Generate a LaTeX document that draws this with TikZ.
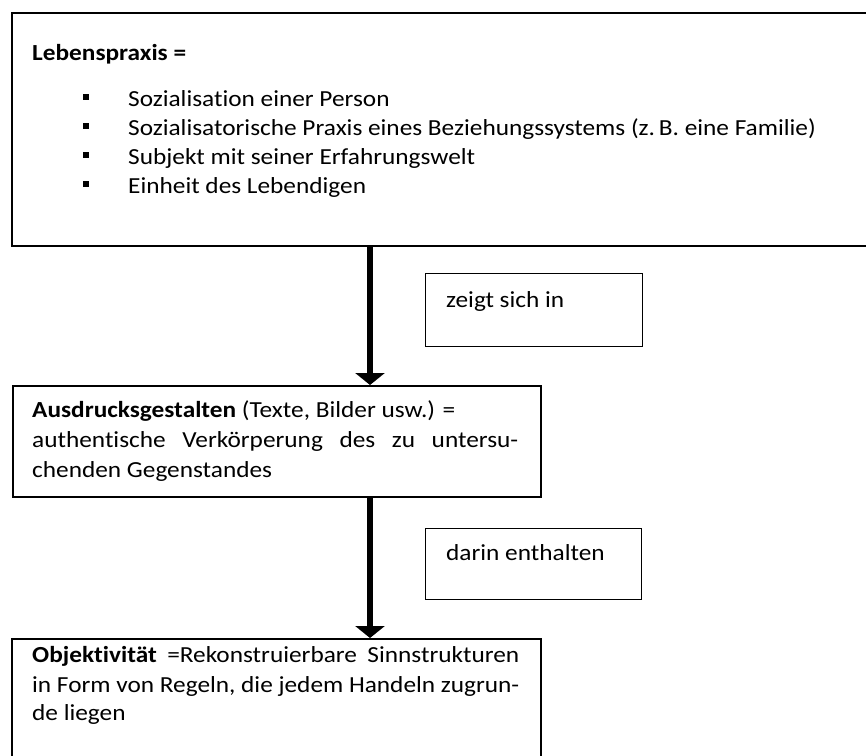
\documentclass[tikz,border=0pt]{standalone}
\usepackage{fontspec}
\setmainfont{Carlito}[Ligatures=NoCommon, FakeStretch=1.1]
\usetikzlibrary{arrows.meta}
\begin{document}
\begin{tikzpicture}[x=1pt,y=-1pt,
  bigbox/.style={draw, line width=1.6pt, anchor=north west, inner sep=0pt},
  labbox/.style={draw, line width=1.3pt, anchor=north west, inner sep=0pt},
  txt/.style={anchor=base west, inner sep=0pt, font=\fontsize{23}{29}\selectfont},
  flow/.style={line width=6pt, -{Triangle[length=12pt, width=29pt]}}
]
\useasboundingbox (0,0) rectangle (866,755);
\clip (0,0) rectangle (866,755);
% boxes
\node[bigbox, minimum width=869pt, minimum height=233pt] (top) at (11,12) {};
\node[bigbox, minimum width=528pt, minimum height=111pt] (mid) at (12,385) {};
\node[bigbox, minimum width=529pt, minimum height=140pt] (bot) at (11,638) {};
\node[labbox, minimum width=217pt, minimum height=73pt] (lab1) at (425,273) {};
\node[labbox, minimum width=216pt, minimum height=71pt] (lab2) at (425,528) {};
% top text
\node[txt] (t0) at (32,60) {\textbf{Lebenspraxis =}};
\node[txt] (t1) at (83,106) {\rule[6pt]{6pt}{6pt}\hspace{39pt}Sozialisation einer Person};
\node[txt] (t2) at (83,135) {\rule[6pt]{6pt}{6pt}\hspace{39pt}Sozialisatorische Praxis eines Beziehungssystems (z.\,B. eine Familie)};
\node[txt] (t3) at (83,164) {\rule[6pt]{6pt}{6pt}\hspace{39pt}Subjekt mit seiner Erfahrungswelt};
\node[txt] (t4) at (83,193) {\rule[6pt]{6pt}{6pt}\hspace{39pt}Einheit des Lebendigen};
% middle text
\node[txt] (m1) at (32,417) {\textbf{Ausdrucksgestalten} (Texte, Bilder usw.) =};
\node[txt] (m2) at (32,447) {\makebox[486pt][s]{authentische Verkörperung des zu untersu-}};
\node[txt] (m3) at (32,477) {chenden Gegenstandes};
% bottom text
\node[txt] (b1) at (32,662) {\makebox[487pt][s]{\textbf{Objektivität}\ \ =Rekonstruierbare\ \ Sinnstrukturen}};
\node[txt] (b2) at (32,692) {\makebox[487pt][s]{in Form von Regeln, die jedem Handeln zugrun-}};
\node[txt] (b3) at (32,720) {de liegen};
% labels
\node[txt] (z1) at (446,307) {zeigt sich in};
\node[txt] (z2) at (446,560) {darin enthalten};
% arrows
\coordinate (ax) at (370,0);
\draw[flow] (top.south -| ax) -- (mid.north -| ax);
\draw[flow] (mid.south -| ax) -- (bot.north -| ax);
\end{tikzpicture}
\end{document}
